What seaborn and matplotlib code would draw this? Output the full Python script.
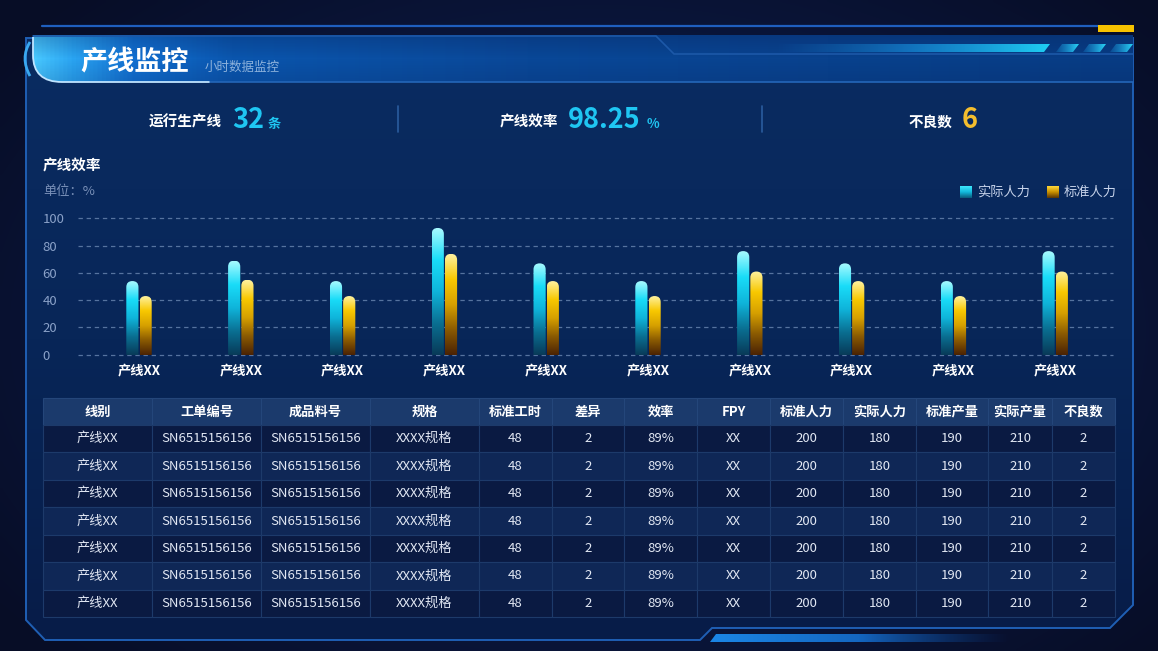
import numpy as np
import pandas as pd
import matplotlib
matplotlib.use("Agg")
import matplotlib.pyplot as plt
import seaborn as sns
from matplotlib.patches import FancyBboxPatch, Polygon, Rectangle, PathPatch
from matplotlib.path import Path
from matplotlib.colors import LinearSegmentedColormap

# ---------------- data ----------------
categories = ["产线XX"] * 10
actual = [54, 69, 54, 93, 67, 54, 76, 67, 54, 76]
standard = [43, 55, 43, 74, 54, 43, 61, 54, 43, 61]
series_names = ["实际人力", "标准人力"]
y_ticks = [0, 20, 40, 60, 80, 100]

kpi_labels = ["运行生产线", "产线效率", "不良数"]
kpi_values = ["32", "98.25", "6"]
kpi_units = ["条", "%", ""]

table_headers = ["线别", "工单编号", "成品料号", "规格", "标准工时", "差异", "效率",
                 "FPY", "标准人力", "实际人力", "标准产量", "实际产量", "不良数"]
col_line = ["产线XX"] * 7
col_order = ["SN6515156156"] * 7
col_part = ["SN6515156156"] * 7
col_spec = ["XXXX规格"] * 7
col_std_hours = [48] * 7
col_diff = [2] * 7
col_eff = ["89%"] * 7
col_fpy = ["XX"] * 7
col_std_staff = [200] * 7
col_act_staff = [180] * 7
col_std_out = [190] * 7
col_act_out = [210] * 7
col_defects = [2] * 7

# ---------------- style ----------------
sns.set_style("dark")
plt.rcParams["font.family"] = ["Noto Sans CJK SC", "DejaVu Sans"]
plt.rcParams["axes.unicode_minus"] = False

W, H = 1158, 651
fig = plt.figure(figsize=(W / 100, H / 100), dpi=100)
fig.patch.set_facecolor("#0a1433")

bg = fig.add_axes([0, 0, 1, 1])
bg.set_xlim(0, W)
bg.set_ylim(H, 0)
bg.axis("off")


def cmap_of(colors):
    return LinearSegmentedColormap.from_list("c", colors)


# background radial gradient
yy, xx = np.mgrid[0:H:4, 0:W:4]
r = np.sqrt(((xx - 600) / 750.0) ** 2 + ((yy - 330) / 480.0) ** 2)
r = np.clip(r, 0, 1)
bgcm = cmap_of(["#11244f", "#0b1840", "#070d26"])
bg.imshow(r, cmap=bgcm, extent=(0, W, H, 0), aspect="auto", zorder=0, interpolation="bilinear")

# main panel
panel_pts = [(26, 38), (1133, 38), (1133, 605), (1110, 628), (712, 628), (700, 640),
             (45, 640), (26, 620)]
panel = Polygon(panel_pts, closed=True, facecolor="none", edgecolor="none", transform=bg.transData)
bg.add_patch(panel)
im = bg.imshow(np.linspace(0, 1, 256)[:, None], cmap=cmap_of(["#0a2c62", "#082658", "#071c48"]),
               extent=(26, 1133, 640, 38), aspect="auto", zorder=1, origin="upper")
im.set_clip_path(panel)
bg.add_patch(Polygon(panel_pts, closed=True, facecolor="none", edgecolor="#1f5fb4",
                     lw=1.4, zorder=2))

# top line + yellow mark
bg.plot([42, 1098], [26, 26], color="#1f5fbf", lw=1.6, zorder=3)
bg.add_patch(Rectangle((1098, 25), 36, 7, facecolor="#f6c200", edgecolor="none", zorder=3))

# header bar
hverts = [(33, 35), (1133, 35), (1133, 82), (62, 82), (33, 82), (33, 55), (33, 35)]
hcodes = [Path.MOVETO, Path.LINETO, Path.LINETO, Path.LINETO, Path.CURVE3, Path.CURVE3, Path.CLOSEPOLY]
hpath = Path(hverts, hcodes)
hpatch = PathPatch(hpath, facecolor="none", edgecolor="none", transform=bg.transData)
bg.add_patch(hpatch)
xs = np.linspace(0, 1, 512)
hcm = LinearSegmentedColormap.from_list(
    "h", [(0.0, "#48c8ff"), (0.035, "#2aa4f2"), (0.09, "#1270d2"), (0.18, "#0b56ae"),
          (0.45, "#0a4898"), (1.0, "#083c84")])
im = bg.imshow(xs[None, :], cmap=hcm, extent=(33, 1133, 82, 35), aspect="auto", zorder=3)
im.set_clip_path(hpatch)
# subtle vertical shading on header
im2 = bg.imshow(np.linspace(0, 1, 64)[:, None],
                cmap=cmap_of([(0.02, 0.1, 0.3, 0.25), (0.02, 0.1, 0.3, 0.0), (0.02, 0.1, 0.3, 0.15)]),
                extent=(33, 1133, 82, 35), aspect="auto", zorder=3.5, origin="upper")
im2.set_clip_path(hpatch)
# header lighter edge around left rounded part
edge_path = Path([(33, 37), (33, 55), (33, 82), (62, 82), (210, 82)],
                 [Path.MOVETO, Path.LINETO, Path.CURVE3, Path.CURVE3, Path.LINETO])
bg.add_patch(PathPatch(edge_path, facecolor="none", edgecolor="#bfe4ff", lw=1.3, zorder=4))
bg.plot([210, 1133], [82, 82], color="#2466b8", lw=1.2, zorder=4)
bg.plot([33, 656, 674, 1133], [36, 36, 54, 54], color="#1c58a8", lw=1.2, zorder=4)
# small outer arc
arc = Path([(30, 42), (20, 58), (30, 76)], [Path.MOVETO, Path.CURVE3, Path.CURVE3])
bg.add_patch(PathPatch(arc, facecolor="none", edgecolor="#3aa8f0", lw=2.0, zorder=4))
# cyan stripe & parallelograms
stripe = Polygon([(775, 44), (1050, 44), (1044, 52), (775, 52)], closed=True,
                 facecolor="none", edgecolor="none", transform=bg.transData)
bg.add_patch(stripe)
im = bg.imshow(xs[None, :], cmap=cmap_of([(0.1, 0.5, 0.8, 0.0), (0.1, 0.6, 0.9, 0.6), "#1fd0f4"]),
               extent=(775, 1050, 52, 44), aspect="auto", zorder=5)
im.set_clip_path(stripe)
for x0 in (1058, 1085, 1112):
    para = Polygon([(x0 + 4, 44), (x0 + 21, 44), (x0 + 15, 52), (x0 - 2, 52)], closed=True,
                   facecolor="none", edgecolor="none", transform=bg.transData)
    bg.add_patch(para)
    im = bg.imshow(xs[None, :], cmap=cmap_of([(0.1, 0.6, 0.9, 0.2), "#2ad8f8"]),
                   extent=(x0 - 2, x0 + 21, 52, 44), aspect="auto", zorder=5)
    im.set_clip_path(para)

# bottom decorative gradient bar
bpar = Polygon([(716, 634), (1010, 634), (1006, 642), (710, 642)], closed=True,
               facecolor="none", edgecolor="none", transform=bg.transData)
bg.add_patch(bpar)
im = bg.imshow(xs[None, :], cmap=cmap_of(["#1b86e6", "#1466c0", (0.05, 0.25, 0.55, 0.0)]),
               extent=(710, 1010, 642, 634), aspect="auto", zorder=3)
im.set_clip_path(bpar)

# titles
bg.text(80, 62, "产线监控", color="white", fontsize=19.5, fontweight="bold", va="center", ha="left", zorder=6)
bg.text(205, 67, "小时数据监控", color="#8db2dc", fontsize=9, va="center", ha="left", zorder=6)

# KPI row
kpi_pos = [(222, 232, 268), (558, 568, 647), (952, 962, None)]
kpi_colors = ["#1fc6f2", "#1fc6f2", "#f4be2e"]
for (lx, vx, ux), lab, val, unit, c in zip(kpi_pos, kpi_labels, kpi_values, kpi_units, kpi_colors):
    bg.text(lx, 122, lab, color="white", fontsize=10.5, fontweight="bold", ha="right", va="center", zorder=6)
    bg.text(vx, 120, val, color=c, fontsize=19.5, fontweight="bold", ha="left", va="center", zorder=6)
    if unit:
        bg.text(ux, 124, unit, color=c, fontsize=9.5, fontweight="bold", ha="left", va="center", zorder=6)
for sx in (398, 762):
    bg.plot([sx, sx], [106, 132], color="#2a5c9e", lw=1.2, zorder=6)

bg.text(43, 165, "产线效率", color="white", fontsize=10.5, fontweight="bold", ha="left", va="center", zorder=6)
bg.text(43, 192, "单位：%", color="#7990b8", fontsize=9.5, ha="left", va="center", zorder=6)

# legend (manual gradient squares)
leg_cols = [["#0a5a7a", "#12b8dc", "#3fe8ff"], ["#5a3505", "#c89000", "#ffd83a"]]
for (sx, tx), name, cols in zip([(960, 977), (1047, 1064)], series_names, leg_cols):
    sq = Rectangle((sx, 186), 12, 12, facecolor="none", edgecolor="none", transform=bg.transData)
    bg.add_patch(sq)
    im = bg.imshow(np.linspace(0, 1, 64)[:, None], cmap=cmap_of(cols), extent=(sx, sx + 12, 198, 186),
                   aspect="auto", zorder=6, origin="lower")
    im.set_clip_path(sq)
    bg.text(tx, 192, name, color="#c7d3ea", fontsize=9.5, ha="left", va="center", zorder=6)

# ---------------- bar chart ----------------
ax_l, ax_r, ax_top, ax_bot = 78, 1113, 218, 355
ax = fig.add_axes([ax_l / W, 1 - ax_bot / H, (ax_r - ax_l) / W, (ax_bot - ax_top) / H])
ax.set_facecolor("none")
ax.patch.set_alpha(0)

df = pd.DataFrame({
    "idx": list(range(len(categories))) * 2,
    "value": actual + standard,
    "series": [series_names[0]] * len(actual) + [series_names[1]] * len(standard),
})
sns.barplot(data=df, x="idx", y="value", hue="series", hue_order=series_names,
            palette=["#19c3e6", "#e8b000"], width=0.26, gap=0.08, legend=False, ax=ax,
            saturation=1, zorder=3)

step = 101.8
c0 = 139
ax.set_xlim(-(c0 - ax_l) / step, 9 + (ax_r - (c0 + 9 * step)) / step)
ax.set_ylim(-0.3, 100.3)
ax.set_yticks(y_ticks)
ax.set_yticklabels([str(v) for v in y_ticks], color="#8aa1c8", fontsize=9.5, ha="left")
ax.tick_params(axis="y", length=0, pad=25.5)
ax.set_xticks(range(len(categories)))
ax.set_xticklabels(categories, color="white", fontsize=9.5, fontweight="bold")
ax.tick_params(axis="x", length=0, pad=6)
ax.set_xlabel("")
ax.set_ylabel("")
for s in ax.spines.values():
    s.set_visible(False)
ax.grid(axis="y", color="#56739f", lw=0.9, linestyle=(0, (3.5, 3)))
ax.grid(axis="x", visible=False)
for gl in ax.get_ygridlines():
    gl.set_clip_on(False)

fig.canvas.draw()
bb = ax.get_window_extent()
xl = ax.get_xlim(); yl = ax.get_ylim()
ppx = bb.width / (xl[1] - xl[0])
ppy = bb.height / (yl[1] - yl[0])
masp = ppx / ppy

bar_cmaps = [cmap_of(["#083a58", "#0a6f92", "#0fb4da", "#19dcf8", "#a8faff"]),
             cmap_of(["#4a2204", "#8a5a02", "#d6a000", "#f8c800", "#fff2a0"])]
for ci, cont in enumerate(ax.containers):
    for p in cont.patches:
        x0, w, h = p.get_x(), p.get_width(), p.get_height()
        p.set_visible(False)
        clipp = FancyBboxPatch((x0, -12), w, h + 12, boxstyle=f"round,pad=0,rounding_size={w / 2}",
                               mutation_aspect=masp, facecolor="none", edgecolor="none",
                               transform=ax.transData)
        ax.add_patch(clipp)
        im = ax.imshow(np.linspace(0, 1, 256)[:, None], cmap=bar_cmaps[ci], extent=(x0, x0 + w, 0, h),
                       aspect="auto", origin="lower", zorder=4, interpolation="bilinear")
        im.set_clip_path(clipp)
ax.set_xlim(xl)
ax.set_ylim(yl)

# ---------------- table ----------------
col_edges = [43, 152, 261, 370, 479, 552, 624, 697, 770, 843, 916, 988, 1052, 1115]
head_top, head_bot = 398, 425
row_h = 27.45
columns = [col_line, col_order, col_part, col_spec, col_std_hours, col_diff, col_eff,
           col_fpy, col_std_staff, col_act_staff, col_std_out, col_act_out, col_defects]
n_rows = len(col_line)
grid_c = "#1d3a6a"
for j, hd in enumerate(table_headers):
    x0, x1 = col_edges[j], col_edges[j + 1]
    bg.add_patch(Rectangle((x0, head_top), x1 - x0, head_bot - head_top, facecolor="#1b3a6c",
                           edgecolor="#24467a", lw=0.8, zorder=6))
    bg.text((x0 + x1) / 2, (head_top + head_bot) / 2, hd, color="white", fontsize=9.5,
            fontweight="bold", ha="center", va="center", zorder=7)
for i in range(n_rows):
    y0 = head_bot + i * row_h
    fc = "#0a1a42" if i % 2 == 0 else "#0f2756"
    for j, col in enumerate(columns):
        x0, x1 = col_edges[j], col_edges[j + 1]
        bg.add_patch(Rectangle((x0, y0), x1 - x0, row_h, facecolor=fc, edgecolor=grid_c,
                               lw=0.8, zorder=6))
        bg.text((x0 + x1) / 2, y0 + row_h / 2, str(col[i]), color="#e2e8f4", fontsize=9.5,
                ha="center", va="center", zorder=7)

fig.savefig("out.png", dpi=100, facecolor=fig.get_facecolor())
